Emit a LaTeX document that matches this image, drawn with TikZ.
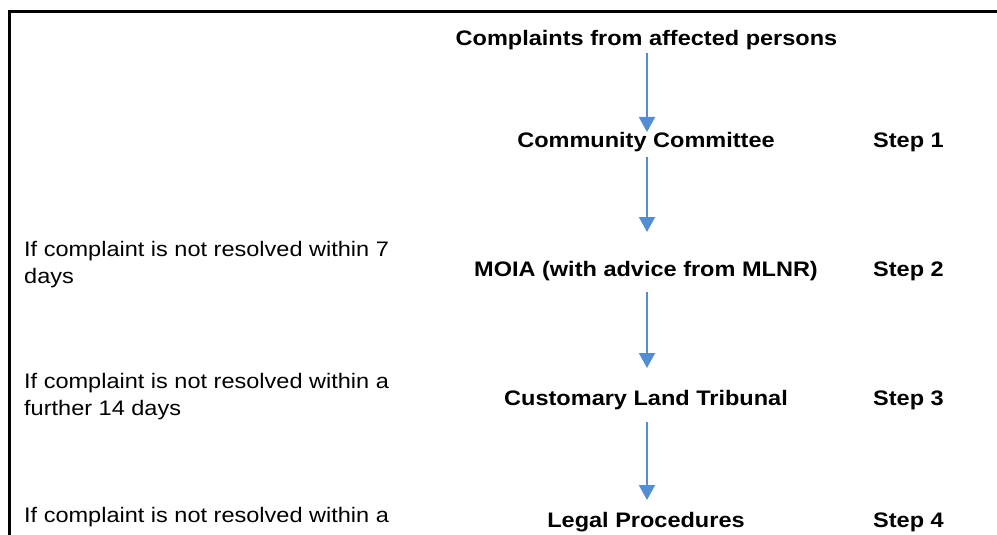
\documentclass[tikz,border=0pt]{standalone}
\usepackage{fontspec}
\setmainfont[FakeStretch=1.12]{Liberation Sans}
\usetikzlibrary{arrows.meta}
\definecolor{arrblue}{RGB}{84,141,212}
\tikzset{
  bold/.style={font=\fontsize{21}{25}\selectfont\bfseries, inner sep=0pt, anchor=base},
  steplabel/.style={font=\fontsize{21}{25}\selectfont\bfseries, inner sep=0pt, anchor=base west},
  note/.style={font=\fontsize{21}{25}\selectfont, inner sep=0pt, anchor=base west},
  arr/.style={draw=arrblue, line width=2pt, -{Triangle[width=16pt,length=15pt]}}
}
\begin{document}
\begin{tikzpicture}[x=1pt,y=-1pt]
\useasboundingbox (0,0) rectangle (997,535);
\draw[line width=3.5pt] (9.5,535) -- (9.5,11.5) -- (997,11.5);

\node[bold] (title) at (646.5,46) {Complaints from affected persons};
\node[bold] (cc) at (646,147) {Community Committee};
\node[bold] (moia) at (646,276) {MOIA (with advice from MLNR)};
\node[bold] (clt) at (646,405) {Customary Land Tribunal};
\node[bold] (legal) at (646,527) {Legal Procedures};

\node[steplabel] (s1) at (873,147) {Step 1};
\node[steplabel] (s2) at (873,276) {Step 2};
\node[steplabel] (s3) at (873,405) {Step 3};
\node[steplabel] (s4) at (873,527) {Step 4};

\node[note] (n2a) at (24,256) {If complaint is not resolved within 7};
\node[note] (n2b) at (24,283) {days};
\node[note] (n3a) at (24,388) {If complaint is not resolved within a};
\node[note] (n3b) at (24,415) {further 14 days};
\node[note] (n4a) at (24,522) {If complaint is not resolved within a};

\draw[arr] ([yshift=-7pt]title.base -| cc.base) ++(1,0) -- ([xshift=1pt,yshift=15pt]cc.base);
\draw[arr] ([xshift=1pt,yshift=-10pt]cc.base) -- ([xshift=1pt,yshift=44pt]moia.base);
\draw[arr] ([xshift=1pt,yshift=-16pt]moia.base) -- ([xshift=1pt,yshift=37pt]clt.base);
\draw[arr] ([xshift=1pt,yshift=-17pt]clt.base) -- ([xshift=1pt,yshift=27pt]legal.base);
\end{tikzpicture}
\end{document}
